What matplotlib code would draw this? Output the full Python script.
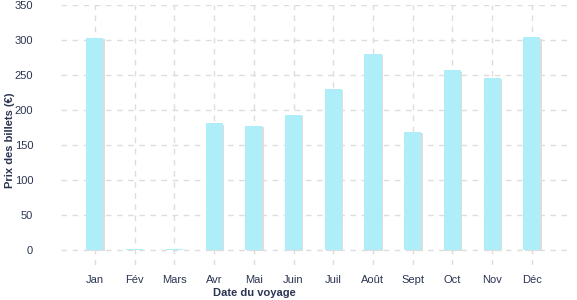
import numpy as np
import matplotlib as mpl
mpl.use('Agg')
import matplotlib.pyplot as plt
import matplotlib.patheffects as pe

# data
mois = ['Jan', 'Fév', 'Mars', 'Avr', 'Mai', 'Juin', 'Juil', 'Août', 'Sept', 'Oct', 'Nov', 'Déc']
prix = [303, 1, 1, 181, 177, 193, 230, 280, 169, 257, 246, 304]
yticks = [0, 50, 100, 150, 200, 250, 300, 350]

textColor = '#2b3452'
barColor = '#aeeef8'
gridColor = '#dddddd'

plt.rcParams['font.family'] = ['Liberation Sans', 'DejaVu Sans']
plt.rcParams['font.size'] = 8

fig = plt.figure(figsize=(5.77, 3.0), dpi=100)
ax = fig.add_axes([0.1057, 0.117, 0.8766, 0.866])

pos = np.arange(len(mois))
bars = ax.bar(pos, prix, width=0.43, color=barColor, zorder=3)
for b in bars:
    b.set_path_effects([pe.SimplePatchShadow(offset=(1, -1), shadow_rgbFace=gridColor, alpha=1),
                        pe.Normal()])

ax.set_xlim(-0.855, 11.88)
ax.set_ylim(-21.5, 350)
ax.set_xticks(pos)
ax.set_xticklabels(mois)
ax.set_yticks(yticks)

ax.grid(True, color=gridColor, linestyle=(0, (4, 4)), linewidth=1, zorder=0)
ax.set_axisbelow(True)
for s in ax.spines.values():
    s.set_visible(False)

ax.tick_params(axis='both', length=0, colors=textColor, labelsize=8)
ax.tick_params(axis='y', pad=20)
ax.tick_params(axis='x', pad=7)

ax.set_xlabel('Date du voyage', fontweight='bold', color=textColor, fontsize=8)
ax.xaxis.set_label_coords(0.383, -0.088)
ax.set_ylabel('Prix des billets (€)', fontweight='bold', color=textColor, fontsize=8)
ax.yaxis.set_label_coords(-0.09, 0.48)

fig.savefig('out.png', dpi=100)
